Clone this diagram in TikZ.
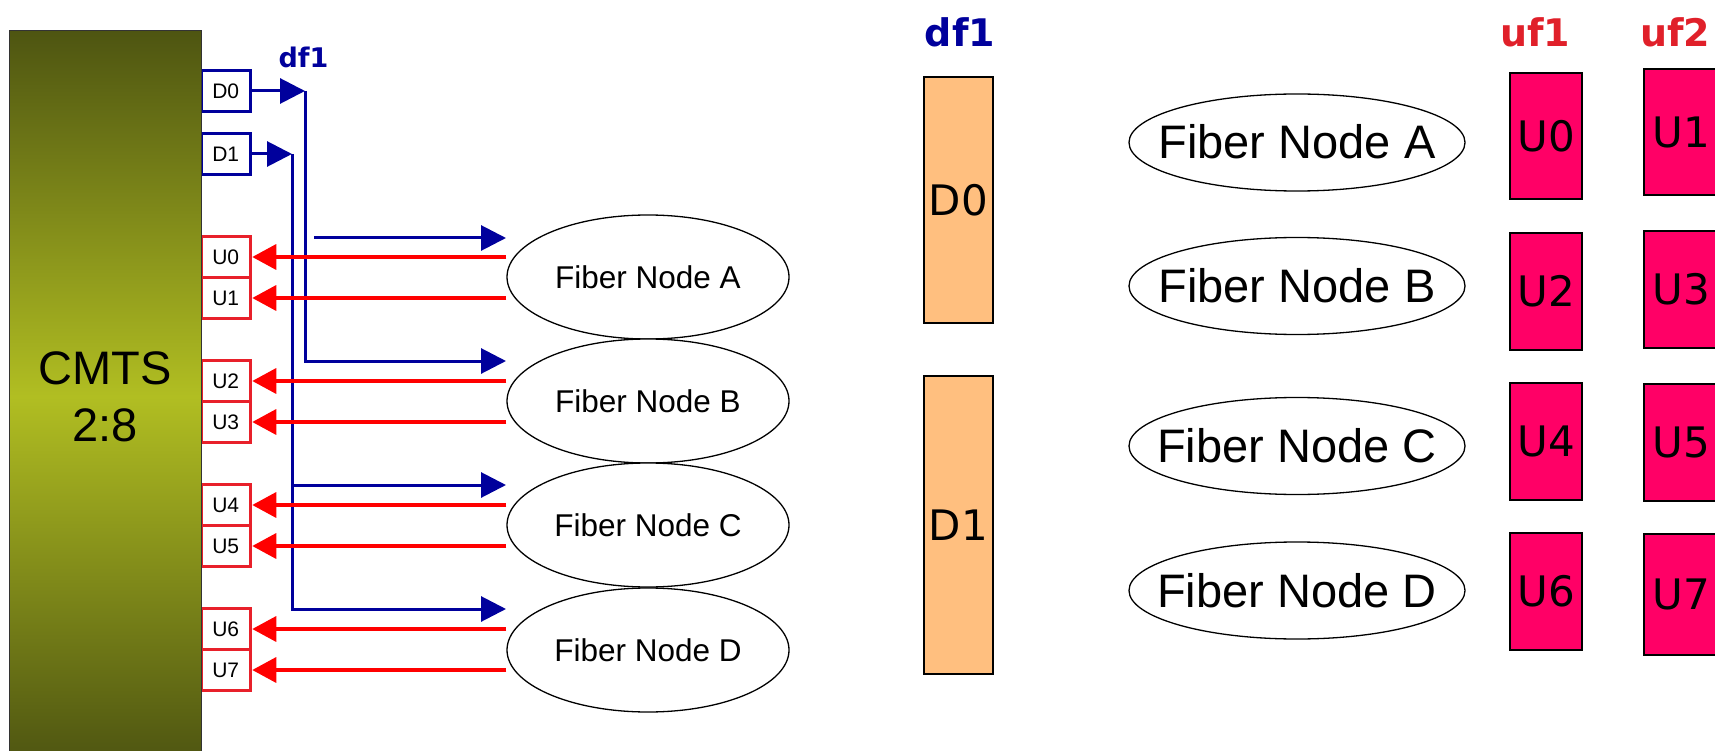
\documentclass[tikz,border=0pt]{standalone}
\usepackage{fontspec}
\setmainfont{Liberation Sans}
\newfontfamily\hand{DejaVu Sans}
\usetikzlibrary{arrows.meta,shapes.geometric}

\definecolor{navy}{HTML}{00009C}
\definecolor{sigred}{HTML}{FF0000}
\definecolor{portred}{HTML}{E8202A}
\definecolor{oliveDark}{HTML}{4E5511}
\definecolor{oliveLight}{HTML}{B1BE22}
\definecolor{chanOrange}{HTML}{FFBF7F}
\definecolor{chanPink}{HTML}{FF0066}
\definecolor{labelRed}{HTML}{E0202A}

% zero-width box so an ellipse keeps its set size around its label
\newcommand\zw[1]{\makebox[0pt]{#1}}

\tikzset{
  cmts/.style={draw=black!80, line width=1pt, top color=oliveDark, bottom color=oliveDark,
    middle color=oliveLight, minimum width=192pt, minimum height=731pt, inner sep=0pt,
    align=center, font=\fontsize{47}{57}\selectfont},
  dport/.style={draw=navy, line width=3.5pt, fill=white, minimum width=49.5pt, minimum height=41pt,
    inner sep=0pt, font=\fontsize{21}{21}\selectfont},
  uport/.style={dport, draw=portred},
  fiber/.style={ellipse, draw, line width=1.3pt, fill=white, minimum width=282pt, minimum height=124pt,
    inner sep=0pt, text height=23pt, text depth=0pt, font=\fontsize{31.5}{31.5}\selectfont},
  fiberbig/.style={fiber, minimum width=336pt, minimum height=97pt, text height=33pt,
    font=\fontsize{47}{47}\selectfont},
  downlink/.style={draw=navy, line width=3pt, -{Triangle[length=25pt,width=25pt]}},
  upwire/.style={draw=sigred, line width=3.5pt, -{Triangle[length=24pt,width=25pt]}},
  dchan/.style={draw=black, line width=1.5pt, fill=chanOrange, minimum width=69pt, inner sep=0pt,
    font=\hand\fontsize{42}{42}\selectfont},
  uchan/.style={draw=black, line width=1.5pt, fill=chanPink, inner sep=0pt,
    font=\hand\fontsize{42}{42}\selectfont},
  grouplabel/.style={anchor=base, inner sep=0pt, font=\hand\bfseries\fontsize{38}{38}\selectfont},
}

\begin{document}
\begin{tikzpicture}[x=1pt, y=-1pt]
\useasboundingbox (0,0) rectangle (1715,751);

% ---------- CMTS with its ports ----------
\node[dport] (pD0) at (225.75,91) {D0};
\node[dport] (pD1) at (225.75,154) {D1};
\node[uport] (pU0) at (225.75,257) {U0};
\node[uport] (pU1) at (225.75,298) {U1};
\node[uport] (pU2) at (225.75,381) {U2};
\node[uport] (pU3) at (225.75,422) {U3};
\node[uport] (pU4) at (225.75,505) {U4};
\node[uport] (pU5) at (225.75,546) {U5};
\node[uport] (pU6) at (225.75,629) {U6};
\node[uport] (pU7) at (225.75,670) {U7};
\node[cmts] (cmts) at (105,396.5) {CMTS\\2:8};

\node[anchor=base, inner sep=0pt, text=navy, font=\hand\bfseries\fontsize{27}{27}\selectfont]
  (dfL) at (303.5,68) {df1};

% ---------- fiber nodes ----------
\node[fiber] (fnA) at (648,277) {\zw{Fiber Node A}};
\node[fiber] (fnB) at (648,401) {\zw{Fiber Node B}};
\node[fiber] (fnC) at (648,525) {\zw{Fiber Node C}};
\node[fiber] (fnD) at (648,650) {\zw{Fiber Node D}};

% ---------- downstream fan-out ----------
\coordinate (j0) at (305,91);
\coordinate (j1) at (292,154);
\coordinate (sA) at (314,238);
\coordinate (tA) at (506,238);
\coordinate (tB) at (506,361);
\coordinate (tC) at (506,485);
\coordinate (tD) at (506,609);

\draw[downlink] (pD0.east) -- (j0);
\draw[downlink] (pD1.east) -- (j1);
\draw[downlink] (sA) -- (tA);
\draw[downlink] (j0) |- (tB);
\draw[downlink] (j1) |- (tD);
\draw[downlink] (j1 |- tC) -- (tC);

% ---------- upstream returns ----------
\draw[upwire] (fnA.west |- pU0.east) -- (pU0.east);
\draw[upwire] (fnA.west |- pU1.east) -- (pU1.east);
\draw[upwire] (fnB.west |- pU2.east) -- (pU2.east);
\draw[upwire] (fnB.west |- pU3.east) -- (pU3.east);
\draw[upwire] (fnC.west |- pU4.east) -- (pU4.east);
\draw[upwire] (fnC.west |- pU5.east) -- (pU5.east);
\draw[upwire] (fnD.west |- pU6.east) -- (pU6.east);
\draw[upwire] (fnD.west |- pU7.east) -- (pU7.east);

% ---------- channel map ----------
\node[grouplabel, text=navy] (dfR) at (960,47) {df1};
\node[grouplabel, text=labelRed] (uf1) at (1535,47) {uf1};
\node[grouplabel, text=labelRed] (uf2) at (1675,47) {uf2};

\node[dchan, minimum height=246pt] (cD0) at (958.5,200) {D0};
\node[dchan, minimum height=298pt] (cD1) at (958.5,525) {D1};

\node[fiberbig] (rfA) at (1297,142.5) {\zw{Fiber Node A}};
\node[fiberbig] (rfB) at (1297,286) {\zw{Fiber Node B}};
\node[fiberbig] (rfC) at (1297,446) {\zw{Fiber Node C}};
\node[fiberbig] (rfD) at (1297,590.5) {\zw{Fiber Node D}};

\node[uchan, minimum width=72pt, minimum height=126pt] (cU0) at (1546,136) {U0};
\node[uchan, minimum width=72pt, minimum height=117pt] (cU2) at (1546,291.5) {U2};
\node[uchan, minimum width=72pt, minimum height=117pt] (cU4) at (1546,441.5) {U4};
\node[uchan, minimum width=72pt, minimum height=117pt] (cU6) at (1546,591.5) {U6};
\node[uchan, minimum width=74pt, minimum height=126pt] (cU1) at (1681,132) {U1};
\node[uchan, minimum width=74pt, minimum height=117pt] (cU3) at (1681,289.5) {U3};
\node[uchan, minimum width=74pt, minimum height=117pt] (cU5) at (1681,442.5) {U5};
\node[uchan, minimum width=74pt, minimum height=121pt] (cU7) at (1681,594.5) {U7};
\end{tikzpicture}
\end{document}
